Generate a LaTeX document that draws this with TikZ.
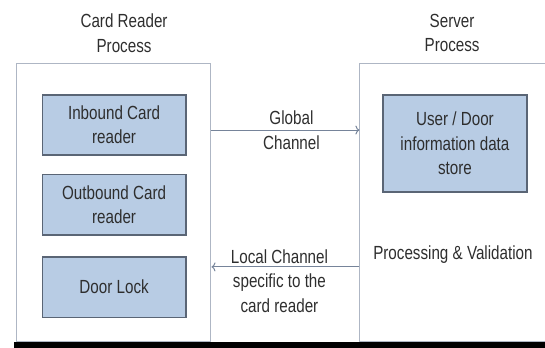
\documentclass[tikz,border=0pt]{standalone}
\usepackage{fontspec}
\setmainfont{Liberation Sans}[FakeStretch=0.80]
\usetikzlibrary{positioning,arrows.meta}

\definecolor{boxfill}{HTML}{B8CCE4}
\definecolor{boxline}{HTML}{5A6575}
\definecolor{procline}{HTML}{AEB6C4}
\definecolor{chanline}{HTML}{76849A}
\definecolor{txtgray}{HTML}{2E2E2E}

\tikzset{
  every node/.style={font=\fontsize{19}{24.5}\selectfont, text=txtgray},
  procbox/.style={draw=procline, line width=1pt, minimum height=9.77cm},
  partbox/.style={draw=boxline, fill=boxfill, line width=1.2pt, minimum width=5.06cm, minimum height=2.11cm, align=center},
  chan/.style={draw=chanline, line width=1pt, >={To[length=4pt,width=9pt]}},
  lbl/.style={align=center}
}

\begin{document}
\begin{tikzpicture}
        \useasboundingbox (0,0) rectangle (19.155,12.231);

        % process titles
        \node[lbl] (card_title) at (4.36,11.07) {Card Reader\\Process};
        \node[lbl] (server_title) at (15.89,11.07) {Server\\Process};

        % outer process frames
        \node[procbox, minimum width=6.85cm] (card_proc) at (3.99,5.10) {};
        \node[procbox, minimum width=6.68cm] (server_proc) at (15.99,5.10) {};

        % card reader parts
        \node[partbox] (inbound) at (4.01,7.84) {Inbound Card\\reader};
        \node[partbox] (outbound) at (4.01,5.03) {Outbound Card\\reader};
        \node[partbox] (door_lock) at (4.01,2.14) {Door Lock};

        % server parts
        \node[partbox, minimum height=3.41cm] (user_store) at (15.99,7.19) {User / Door\\information data\\store};
        \node (validation) at (15.92,3.27) {Processing \& Validation};

        % channels
        \draw[chan, ->] (card_proc.east |- 0,7.66) -- node[lbl, xshift=6pt] {Global\\Channel} (server_proc.west |- 0,7.66);
        \draw[chan, ->] (server_proc.west |- 0,2.85) -- node[lbl, xshift=-6pt, yshift=-14pt] {Local Channel\\specific to the\\card reader} (card_proc.east |- 0,2.85);

        % bottom band
        \fill[black] (0.49,0) rectangle (19.155,0.211);
\end{tikzpicture}
\end{document}
